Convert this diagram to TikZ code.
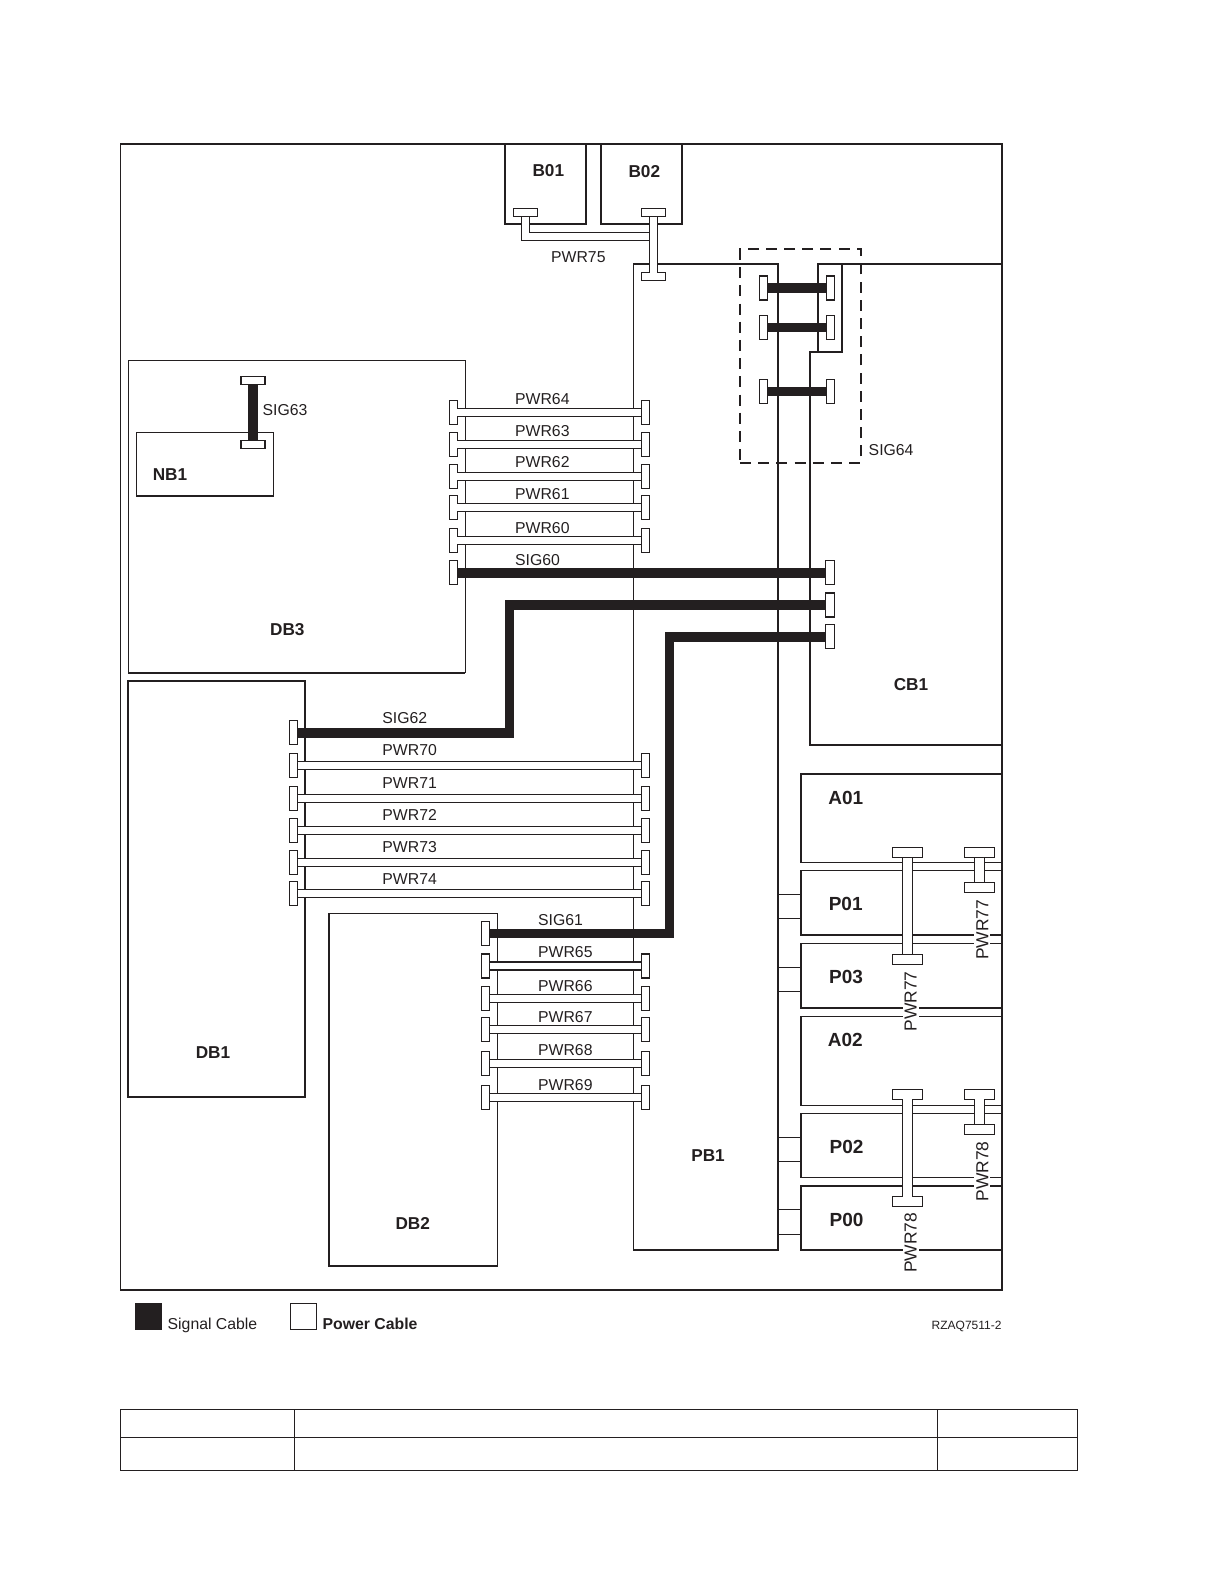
\documentclass[tikz,border=0pt]{standalone}
\usepackage{fontspec}
\setmainfont{Liberation Sans}
\usetikzlibrary{fit}
\definecolor{ink}{HTML}{231F20}
\tikzset{
  x=.5pt,y=-.5pt,
  every node/.style={text=ink,font=\fontsize{7.9}{9}\selectfont},
  board/.style={draw=ink,line width=.55pt,inner sep=0pt,outer sep=0pt},
  bboard/.style={board,line width=.95pt},
  tag/.style={anchor=base west,inner sep=0pt,xshift=-.5pt},
  boardname/.style={anchor=base,inner sep=0pt,font=\fontsize{8.6}{10}\bfseries\selectfont},
  slotname/.style={boardname,font=\fontsize{9.5}{11}\bfseries\selectfont},
  uptag/.style={anchor=base west,rotate=90,fill=white,inner sep=1pt,font=\fontsize{8.7}{10}\selectfont},
  plug/.style={draw=ink,fill=white,line width=.55pt,inner sep=0pt,outer sep=0pt,minimum width=4.1pt,minimum height=12pt},
  flatplug/.style={plug,minimum width=12pt,minimum height=4pt},
  wideplug/.style={plug,minimum width=15pt,minimum height=5pt},
  sigcable/.style={draw=ink,line width=4.8pt},
  pwrcable/.style={draw=ink,line width=.55pt,double=white,double distance=3.45pt},
  wirecable/.style={draw=ink,line width=.55pt,double=white,double distance=4.6pt},
  link/.style={draw=ink,fill=white,line width=.55pt,inner sep=0pt,outer sep=0pt}
}
\begin{document}
\begin{tikzpicture}
\useasboundingbox (0,0) rectangle (1224,1584);
\node[board,fit={(120.6,144) (1002,1290)}] (frame) {};
\draw[bboard] (frame.north west) -- (frame.north east) (frame.south west) -- (frame.south east);
\node[bboard,line width=.8pt,fit={(505,144) (586,224)}] (B01) {};
\node[bboard,line width=.8pt,fit={(601,144) (682,224)}] (B02) {};
\node[board,fit={(128.3,360.3) (465.3,672.7)}] (DB3) {};
\draw[bboard] (DB3.south west) -- (DB3.south east);
\node[board,line width=.7pt,fit={(136.7,432.3) (273.3,496)}] (NB1) {};
\node[bboard,fit={(128.3,681) (305,1096.7)}] (DB1) {};
\node[board,fit={(328.7,913.7) (497.3,1266)}] (DB2) {};
\draw[bboard] (DB2.north west) -- (DB2.south west) -- (DB2.south east);
\node[board,fit={(633.7,264) (778,1250)}] (PB1) {};
\draw[bboard] (PB1.north west) -- (PB1.north east) -- (PB1.south east);
\draw[bboard] (1002,264) -- (818,264) -- (818,352);
\draw[bboard] (842,264) -- (842,352) -- (810,352) -- (810,745) -- (1002,745);
\node[board,fit={(801,774) (1002,862.3)}] (A01) {};
\draw[bboard] (A01.south west) -- (A01.north west) -- (A01.north east);
\node[board,fit={(801,870.3) (1002,934.7)}] (P01) {};
\draw[bboard] (P01.north west) -- (P01.south west) -- (P01.south east);
\node[board,fit={(801,943.3) (1002,1008)}] (P03) {};
\draw[bboard] (P03.north west) -- (P03.south west) -- (P03.south east);
\node[board,fit={(801,1016.3) (1002,1105.3)}] (A02) {};
\draw[bboard] (A02.north west) -- (A02.south west);
\node[board,fit={(801,1113.3) (1002,1177.3)}] (P02) {};
\draw[bboard] (P02.north west) -- (P02.south west);
\node[board,fit={(801,1185.7) (1002,1250)}] (P00) {};
\draw[bboard] (P00.south west) -- (P00.north west) -- (P00.north east);
\draw[board] (778,894.3) -- (801,894.3) (778,918.3) -- (801,918.3);
\node[link,fit={(778,967.3) (801,991.3)}] (link03) {};
\node[link,fit={(778,1137.3) (801,1161.3)}] (link02) {};
\node[link,fit={(778,1209.7) (801,1234.3)}] (link00) {};
\node[boardname] (tB01) at (548.3,176.7) {B01};
\node[boardname] (tB02) at (644.3,177.7) {B02};
\node[boardname] (tNB1) at (170,480) {NB1};
\node[boardname] (tDB3) at (287.3,635.7) {DB3};
\node[boardname] (tCB1) at (911,690) {CB1};
\node[boardname] (tDB1) at (213,1058) {DB1};
\node[boardname] (tDB2) at (412.7,1229) {DB2};
\node[boardname] (tPB1) at (708,1161) {PB1};
\node[slotname] (tA01) at (845.7,804) {A01};
\node[slotname] (tP01) at (845.7,910.7) {P01};
\node[slotname] (tP03) at (846,983.7) {P03};
\node[slotname] (tA02) at (845.3,1046.7) {A02};
\node[slotname] (tP02) at (846.5,1153.3) {P02};
\node[slotname] (tP00) at (846.5,1226.7) {P00};
\node[flatplug] (b01p) at (525.6,212.5) {};
\node[flatplug] (b02p) at (653.3,212.5) {};
\node[flatplug] (pb1p) at (653.3,276.5) {};
\coordinate (pwr75b) at (653.3,236.3);
\draw[pwrcable] (b01p) |- (pwr75b);
\draw[pwrcable] (b02p) -- (pb1p);
\node[tag] (tPWR75) at (551.7,262) {PWR75};
\node[flatplug] (sig63a) at (253,380.3) {};
\node[flatplug] (sig63b) at (253,444.7) {};
\draw[sigcable] (sig63a) -- (sig63b);
\node[tag] (tSIG63) at (263.3,415.5) {SIG63};
\node[plug] (pwr64l) at (453.3,412.3) {};
\node[plug] (pwr64r) at (645.4,412.3) {};
\draw[pwrcable] (pwr64l) -- (pwr64r);
\node[tag] (tPWR64) at (515.7,404) {PWR64};
\node[plug] (pwr63l) at (453.3,444.3) {};
\node[plug] (pwr63r) at (645.4,444.3) {};
\draw[pwrcable] (pwr63l) -- (pwr63r);
\node[tag] (tPWR63) at (515.7,436.7) {PWR63};
\node[plug] (pwr62l) at (453.3,476.3) {};
\node[plug] (pwr62r) at (645.4,476.3) {};
\draw[pwrcable] (pwr62l) -- (pwr62r);
\node[tag] (tPWR62) at (515.7,467.5) {PWR62};
\node[plug] (pwr61l) at (453.3,507.3) {};
\node[plug] (pwr61r) at (645.4,507.3) {};
\draw[pwrcable] (pwr61l) -- (pwr61r);
\node[tag] (tPWR61) at (515.7,499) {PWR61};
\node[plug] (pwr60l) at (453.3,540.3) {};
\node[plug] (pwr60r) at (645.4,540.3) {};
\draw[pwrcable] (pwr60l) -- (pwr60r);
\node[tag] (tPWR60) at (515.7,533) {PWR60};
\node[plug] (sig60l) at (453.3,572.7) {};
\node[plug] (sig60r) at (830,572.7) {};
\draw[sigcable] (sig60l) -- (sig60r);
\node[tag] (tSIG60) at (515.7,565) {SIG60};
\node[plug] (sig62l) at (293.3,732.7) {};
\node[plug] (sig62r) at (830,605) {};
\coordinate (sig62b) at (509.3,605);
\draw[sigcable] (sig62l) -| (sig62b) -- (sig62r);
\node[tag] (tSIG62) at (383,723.3) {SIG62};
\node[plug] (sig61l) at (485.5,933.3) {};
\node[plug] (sig61r) at (830,636.7) {};
\coordinate (sig61b) at (669.5,636.7);
\draw[sigcable] (sig61l) -| (sig61b) -- (sig61r);
\node[tag] (tSIG61) at (538.7,925.7) {SIG61};
\node[plug] (pwr70l) at (293.5,765.3) {};
\node[plug] (pwr70r) at (645.4,765.3) {};
\draw[pwrcable] (pwr70l) -- (pwr70r);
\node[tag] (tPWR70) at (383,755.3) {PWR70};
\node[plug] (pwr71l) at (293.5,798.3) {};
\node[plug] (pwr71r) at (645.4,798.3) {};
\draw[pwrcable] (pwr71l) -- (pwr71r);
\node[tag] (tPWR71) at (383,788.3) {PWR71};
\node[plug] (pwr72l) at (293.5,830.3) {};
\node[plug] (pwr72r) at (645.4,830.3) {};
\draw[pwrcable] (pwr72l) -- (pwr72r);
\node[tag] (tPWR72) at (383,820) {PWR72};
\node[plug] (pwr73l) at (293.5,862.3) {};
\node[plug] (pwr73r) at (645.4,862.3) {};
\draw[pwrcable] (pwr73l) -- (pwr73r);
\node[tag] (tPWR73) at (383,852) {PWR73};
\node[plug] (pwr74l) at (293.5,893.3) {};
\node[plug] (pwr74r) at (645.4,893.3) {};
\draw[pwrcable] (pwr74l) -- (pwr74r);
\node[tag] (tPWR74) at (383,884.5) {PWR74};
\node[plug] (pwr65l) at (485.5,966) {};
\node[plug] (pwr65r) at (645.4,966) {};
\draw[pwrcable] (pwr65l) -- (pwr65r);
\node[tag] (tPWR65) at (538.7,957) {PWR65};
\node[plug] (pwr66l) at (485.5,998.3) {};
\node[plug] (pwr66r) at (645.4,998.3) {};
\draw[pwrcable] (pwr66l) -- (pwr66r);
\node[tag] (tPWR66) at (538.7,991) {PWR66};
\node[plug] (pwr67l) at (485.5,1029.3) {};
\node[plug] (pwr67r) at (645.4,1029.3) {};
\draw[pwrcable] (pwr67l) -- (pwr67r);
\node[tag] (tPWR67) at (538.7,1022.3) {PWR67};
\node[plug] (pwr68l) at (485.5,1063.3) {};
\node[plug] (pwr68r) at (645.4,1063.3) {};
\draw[pwrcable] (pwr68l) -- (pwr68r);
\node[tag] (tPWR68) at (538.7,1055.7) {PWR68};
\node[plug] (pwr69l) at (485.5,1097.3) {};
\node[plug] (pwr69r) at (645.4,1097.3) {};
\draw[pwrcable] (pwr69l) -- (pwr69r);
\node[tag] (tPWR69) at (538.7,1090.3) {PWR69};
\node[plug] (sig64al) at (763.3,288) {};
\node[plug] (sig64ar) at (830.7,288) {};
\draw[sigcable] (sig64al) -- (sig64ar);
\node[plug] (sig64bl) at (763.3,327.5) {};
\node[plug] (sig64br) at (830.7,327.5) {};
\draw[sigcable] (sig64bl) -- (sig64br);
\node[plug] (sig64cl) at (763.3,391.5) {};
\node[plug] (sig64cr) at (830.7,391.5) {};
\draw[sigcable] (sig64cl) -- (sig64cr);
\node[draw=ink,line width=.95pt,dash pattern=on 5.5pt off 3.6pt,inner sep=0pt,fit={(740,249.3) (861,462.7)}] (sig64box) {};
\node[tag] (tSIG64) at (869.3,455) {SIG64};
\node[wideplug] (pwr77a) at (907.5,852.5) {};
\node[wideplug] (pwr77b) at (907.5,959.3) {};
\draw[wirecable] (pwr77a) -- (pwr77b);
\node[uptag] (tPWR77a) at (916.7,1033.7) {PWR77};
\node[wideplug] (pwr77c) at (979.5,852.5) {};
\node[wideplug] (pwr77d) at (979.5,887.3) {};
\draw[wirecable] (pwr77c) -- (pwr77d);
\node[uptag] (tPWR77b) at (988.3,962) {PWR77};
\node[wideplug] (pwr78a) at (907.5,1094.3) {};
\node[wideplug] (pwr78b) at (907.5,1201.5) {};
\draw[wirecable] (pwr78a) -- (pwr78b);
\node[uptag] (tPWR78a) at (916.7,1275.3) {PWR78};
\node[wideplug] (pwr78c) at (979.5,1094.3) {};
\node[wideplug] (pwr78d) at (979.5,1129.3) {};
\draw[wirecable] (pwr78c) -- (pwr78d);
\node[uptag] (tPWR78b) at (988.3,1203.7) {PWR78};
\node[fill=ink,inner sep=0pt,fit={(135,1303) (162,1330)}] (sigkey) {};
\node[tag] (tsigkey) at (168.3,1329.3) {Signal Cable};
\node[board,fit={(290.3,1303.3) (316.7,1329.7)}] (pwrkey) {};
\node[tag,font=\fontsize{7.9}{9}\bfseries\selectfont] (tpwrkey) at (323.3,1329.3) {Power Cable};
\node[tag,font=\fontsize{6}{7}\selectfont] (tfig) at (932.3,1329) {RZAQ7511-2};
\draw[board,line width=.65pt] (120.6,1409.3) rectangle (1077.7,1470.3);
\draw[board,line width=.65pt] (120.6,1437.3) -- (1077.7,1437.3);
\draw[board,line width=.65pt] (294.3,1409.3) -- (294.3,1470.3);
\draw[board,line width=.65pt] (937.3,1409.3) -- (937.3,1470.3);
\end{tikzpicture}
\end{document}
